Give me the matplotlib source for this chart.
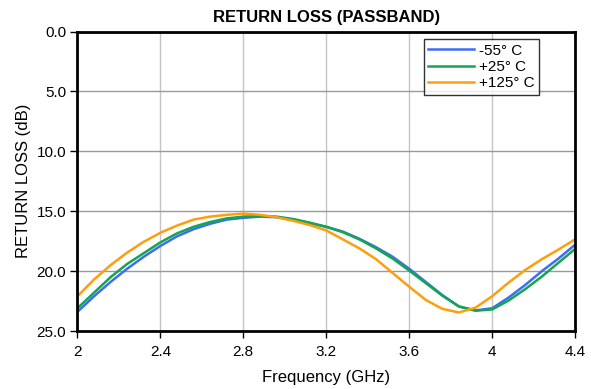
import numpy as np
import matplotlib
matplotlib.use('Agg')
import matplotlib.pyplot as plt

plt.rcParams['font.family'] = ['Liberation Sans', 'DejaVu Sans']

# frequency points (GHz) and return loss (dB)
freq = [2.00, 2.08, 2.16, 2.24, 2.32, 2.40, 2.48, 2.56, 2.64, 2.72, 2.80,
        2.88, 2.96, 3.04, 3.12, 3.20, 3.28, 3.36, 3.44, 3.52, 3.60,
        3.68, 3.76, 3.84, 3.92, 4.00, 4.08, 4.16, 4.24, 4.32, 4.40]
rl_m55 = [23.4, 22.1, 20.9, 19.8, 18.8, 17.9, 17.1, 16.5, 16.05, 15.7, 15.55,
          15.45, 15.5, 15.7, 16.0, 16.3, 16.7, 17.3, 18.0, 18.8, 19.8,
          20.9, 22.0, 22.95, 23.28, 23.1, 22.2, 21.15, 20.0, 18.95, 17.8]
rl_p25 = [23.1, 21.8, 20.5, 19.4, 18.5, 17.6, 16.85, 16.3, 15.9, 15.6, 15.45,
          15.4, 15.45, 15.65, 15.95, 16.3, 16.75, 17.35, 18.1, 18.95, 19.95,
          21.0, 22.05, 22.95, 23.3, 23.2, 22.45, 21.5, 20.45, 19.3, 18.15]
rl_p125 = [22.1, 20.7, 19.5, 18.45, 17.55, 16.8, 16.2, 15.7, 15.45, 15.3, 15.2,
           15.3, 15.5, 15.8, 16.15, 16.6, 17.35, 18.1, 19.0, 20.15, 21.3,
           22.4, 23.15, 23.45, 23.05, 22.1, 20.95, 19.9, 19.0, 18.2, 17.35]

labels = ['-55° C', '+25° C', '+125° C']
colors = ['#3d6cf5', '#12a650', '#ff9e0d']
xticks = [2, 2.4, 2.8, 3.2, 3.6, 4, 4.4]
xticklabels = ['2', '2.4', '2.8', '3.2', '3.6', '4', '4.4']
yticks = [0, 5, 10, 15, 20, 25]

fig = plt.figure(figsize=(5.91, 3.89), dpi=100)
ax = fig.add_axes([0.131, 0.149, 0.842, 0.770])

for ys, lab, c in zip([rl_m55, rl_p25, rl_p125], labels, colors):
    ax.plot(freq, ys, color=c, lw=1.8, label=lab, solid_joinstyle='round')

ax.set_xlim(2, 4.4)
ax.set_ylim(25, 0)
ax.set_xticks(xticks)
ax.set_xticklabels(xticklabels)
ax.set_yticks(yticks)
ax.set_yticklabels([f'{v:.1f}' for v in yticks])

ax.xaxis.grid(True, color='#c4c4c4', lw=1)
ax.yaxis.grid(True, color='#9a9a9a', lw=1)
ax.set_axisbelow(True)

for s in ax.spines.values():
    s.set_linewidth(2)
    s.set_color('black')

ax.tick_params(direction='out', length=5, width=1, labelsize=11, colors='black')
ax.tick_params(axis='x', pad=5)
ax.tick_params(axis='y', pad=3)

ax.set_xlabel('Frequency (GHz)', fontsize=12, labelpad=8)
ax.set_ylabel('RETURN LOSS (dB)', fontsize=12, labelpad=4)
ax.set_title('RETURN LOSS (PASSBAND)', fontsize=12, fontweight='bold', pad=7)

leg = ax.legend(loc='upper right', bbox_to_anchor=(0.927, 0.975), borderaxespad=0,
                fontsize=11, frameon=True, fancybox=False, handlelength=3.0,
                handletextpad=0.3, labelspacing=0.15, borderpad=0.3)
leg.get_frame().set_edgecolor('black')
leg.get_frame().set_linewidth(1)

fig.savefig('out.png', dpi=100)
